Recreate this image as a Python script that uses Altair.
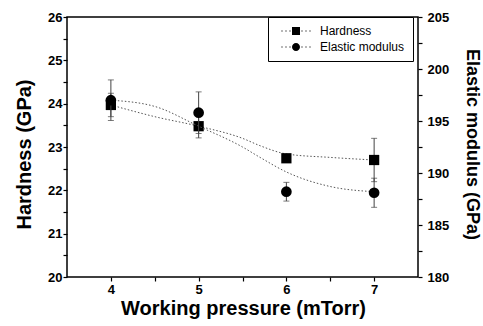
import altair as alt
import pandas as pd

# ---- data ----
pressure = [4, 5, 6, 7]
hardness = [23.97, 23.48, 22.74, 22.70]
hardness_err = [0.27, 0.27, 0.06, 0.50]
elastic = [197.0, 195.8, 188.2, 188.1]
elastic_err = [1.95, 2.0, 0.9, 1.4]

# smooth guide curves
fit_x = [4, 4.5, 5, 5.5, 5.7, 6, 6.5, 7]
hardness_fit = [23.97, 23.70, 23.48, 23.20, 23.03, 22.84, 22.76, 22.70]
elastic_fit = [197.0, 196.4, 194.5, 192.5, 191.5, 190.1, 188.7, 188.2]

series_names = ["Hardness", "Elastic modulus"]

hd = pd.DataFrame({"p": pressure, "v": hardness,
                   "lo": [v - e for v, e in zip(hardness, hardness_err)],
                   "hi": [v + e for v, e in zip(hardness, hardness_err)]})
ed = pd.DataFrame({"p": pressure, "v": elastic,
                   "lo": [v - e for v, e in zip(elastic, elastic_err)],
                   "hi": [v + e for v, e in zip(elastic, elastic_err)]})
hf = pd.DataFrame({"p": fit_x, "v": hardness_fit})
ef = pd.DataFrame({"p": fit_x, "v": elastic_fit})

FONT = "Liberation Sans"

x_scale = alt.Scale(domain=[3.5, 7.5], nice=False, zero=False)
h_scale = alt.Scale(domain=[20, 26], nice=False, zero=False)
e_scale = alt.Scale(domain=[180, 205], nice=False, zero=False)

common = dict(grid=False, domain=False, ticks=True, tickSize=4,
              tickWidth=1.2, tickColor="black", tickOpacity=1,
              labelFont=FONT, labelFontWeight="bold",
              labelColor="black", labelFontSize=13, titleFont=FONT,
              titleFontWeight="bold", titleColor="black", zindex=2)

x_axis = alt.Axis(
    values=[4, 4.5, 5, 5.5, 6, 6.5, 7],
    labelExpr="datum.value % 1 == 0 ? format(datum.value, 'd') : ''",
    title="Working pressure (mTorr)", labelPadding=2, labelBaseline="top",
    titleX=176, titleY=37, titleBaseline="alphabetic", titleAlign="center",
    titleFontSize=20, **common,
)
h_axis = alt.Axis(
    values=[20 + 0.5 * i for i in range(13)],
    labelExpr="datum.value % 1 == 0 ? format(datum.value, 'd') : ''",
    title="Hardness (GPa)", orient="left", labelPadding=1,
    titleX=-43, titleY=137, titleAngle=270, titleBaseline="middle",
    titleAlign="center", titleFontSize=20, **common,
)
e_axis = alt.Axis(
    values=[180 + 2.5 * i for i in range(11)],
    labelExpr="datum.value % 5 == 0 ? format(datum.value, 'd') : ''",
    title="Elastic modulus (GPa)", orient="right", labelPadding=5,
    titleX=53, titleY=127, titleAngle=90, titleBaseline="middle",
    titleAlign="center", titleFontSize=18, **common,
)

X = alt.X("p:Q", scale=x_scale, axis=x_axis)


# legend symbols: dotted line (tiny filled dots) + marker; unit = 4 px
def dots_path(centers, r=0.14):
    return " ".join(
        f"M {c - r:.3f} {-r:.3f} L {c + r:.3f} {-r:.3f} "
        f"L {c + r:.3f} {r:.3f} L {c - r:.3f} {r:.3f} Z" for c in centers)


dot_pos = [-3.5, -2.5, -1.5, 1.5, 2.5, 3.5]
sq_path = dots_path(dot_pos) + " M -1 -1 L 1 -1 L 1 1 L -1 1 Z"
ci_path = (dots_path(dot_pos) + " M -1 0 A 1 1 0 1 0 1 0 "
           "A 1 1 0 1 0 -1 0 Z")

curve_style = dict(color="#555555", strokeWidth=1, strokeDash=[1.5, 2],
                   interpolate="monotone")
err_color = "#444444"

# hardness group
h_curve = alt.Chart(hf).mark_line(**curve_style).encode(
    x=X, y=alt.Y("v:Q", scale=h_scale, axis=h_axis))
h_bar = alt.Chart(hd).mark_rule(color=err_color, strokeWidth=1).encode(
    x=X, y=alt.Y("lo:Q", scale=h_scale, axis=h_axis), y2="hi:Q")
h_cap_lo = alt.Chart(hd).mark_tick(color=err_color, orient="horizontal",
                                   size=6, thickness=1).encode(
    x=X, y=alt.Y("lo:Q", scale=h_scale, axis=h_axis))
h_cap_hi = alt.Chart(hd).mark_tick(color=err_color, orient="horizontal",
                                   size=6, thickness=1).encode(
    x=X, y=alt.Y("hi:Q", scale=h_scale, axis=h_axis))
h_pts = alt.Chart(hd).mark_point(shape="square", filled=True, size=105,
                                 color="black", opacity=1).encode(
    x=X, y=alt.Y("v:Q", scale=h_scale, axis=h_axis))
# zero-size layer that only carries the legend
h_legend = alt.Chart(hd).transform_calculate(series="'Hardness'").mark_point(
    filled=True, fill="black", size=0).encode(
    x=X, y=alt.Y("v:Q", scale=h_scale, axis=h_axis),
    shape=alt.Shape("series:N",
                    scale=alt.Scale(domain=series_names, range=[sq_path, ci_path]),
                    legend=alt.Legend(
                        title=None, orient="none", legendX=201, legendY=0,
                        strokeColor="black", fillColor="white", padding=8,
                        symbolSize=64, symbolOffset=14, labelOffset=18,
                        symbolFillColor="black", symbolStrokeWidth=0,
                        symbolOpacity=1, rowPadding=4,
                        labelFont=FONT, labelFontSize=12, labelColor="black",
                        labelFontWeight="normal")))

hard = alt.layer(h_curve, h_bar, h_cap_lo, h_cap_hi, h_pts, h_legend)

# elastic group
e_curve = alt.Chart(ef).mark_line(**curve_style).encode(
    x=X, y=alt.Y("v:Q", scale=e_scale, axis=e_axis))
e_bar = alt.Chart(ed).mark_rule(color=err_color, strokeWidth=1).encode(
    x=X, y=alt.Y("lo:Q", scale=e_scale, axis=e_axis), y2="hi:Q")
e_cap_lo = alt.Chart(ed).mark_tick(color=err_color, orient="horizontal",
                                   size=6, thickness=1).encode(
    x=X, y=alt.Y("lo:Q", scale=e_scale, axis=e_axis))
e_cap_hi = alt.Chart(ed).mark_tick(color=err_color, orient="horizontal",
                                   size=6, thickness=1).encode(
    x=X, y=alt.Y("hi:Q", scale=e_scale, axis=e_axis))
e_pts = alt.Chart(ed).mark_point(shape="circle", filled=True, size=115,
                                 color="black", opacity=1).encode(
    x=X, y=alt.Y("v:Q", scale=e_scale, axis=e_axis))

elas = alt.layer(e_curve, e_bar, e_cap_lo, e_cap_hi, e_pts)

chart = alt.layer(hard, elas).resolve_scale(y="independent").properties(
    width=351, height=260,
    padding={"left": 67, "top": 17, "right": 65, "bottom": 49},
    autosize=alt.AutoSizeParams(type="none"),
    background="white",
).configure_view(stroke="black", strokeWidth=1.5)

chart.save("out.html", embed_options={"renderer": "svg", "actions": False})
